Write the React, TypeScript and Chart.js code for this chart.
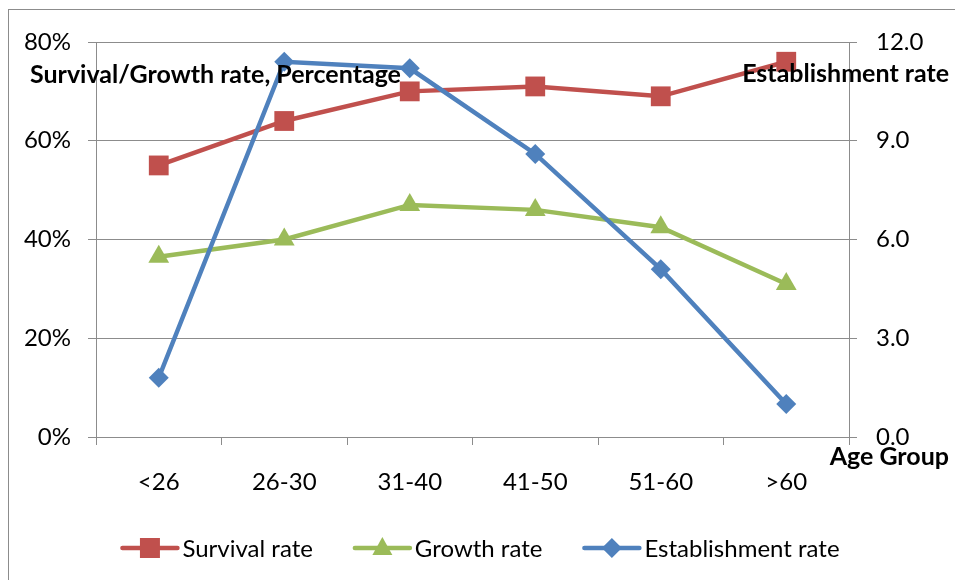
import React, { useEffect, useRef } from "react";
import { Chart, registerables } from "chart.js";

Chart.register(...registerables);

const ageGroups = ["<26", "26-30", "31-40", "41-50", "51-60", ">60"];
const survivalRate = [55, 64, 70, 71, 69, 76];
const growthRate = [36.5, 40, 47, 46, 42.5, 31];
const establishmentRate = [1.8, 11.4, 11.2, 8.6, 5.1, 1.0];

const leftTitle = "Survival/Growth rate, Percentage";
const rightTitle = "Establishment rate";
const xTitle = "Age Group";

const FONT = "Lato, 'Open Sans', sans-serif";
const TICK_SIZE = 24;
const TITLE_SIZE = 25;
const GRID = "#8c8c8c";
const RED = "#C0504D";
const GREEN = "#9BBB59";
const BLUE = "#4F81BD";

function drawMarker(ctx: CanvasRenderingContext2D, style: string, x: number, y: number, color: string) {
  ctx.fillStyle = color;
  ctx.beginPath();
  if (style === "rect") {
    ctx.rect(x - 10, y - 10, 20, 20);
  } else if (style === "triangle") {
    ctx.moveTo(x, y - 11);
    ctx.lineTo(x + 10, y + 7);
    ctx.lineTo(x - 10, y + 7);
    ctx.closePath();
  } else {
    ctx.moveTo(x, y - 10);
    ctx.lineTo(x + 10, y);
    ctx.lineTo(x, y + 10);
    ctx.lineTo(x - 10, y);
    ctx.closePath();
  }
  ctx.fill();
}

const annotationPlugin = {
  id: "axisTitlesAndLegend",
  afterDraw(chart: any) {
    const ctx: CanvasRenderingContext2D = chart.ctx;
    ctx.save();
    ctx.fillStyle = "#000";
    ctx.textBaseline = "alphabetic";
    ctx.font = `bold ${TITLE_SIZE}px ${FONT}`;
    ctx.textAlign = "left";
    ctx.fillText(leftTitle, 30, 83);
    ctx.textAlign = "right";
    ctx.fillText(rightTitle, 949, 82);
    ctx.fillText(xTitle, 949, 465);

    // legend, centred under the plot
    ctx.font = `${TICK_SIZE}px ${FONT}`;
    ctx.textAlign = "left";
    ctx.textBaseline = "middle";
    const lineLen = 55;
    const textGap = 5;
    const itemGap = 42;
    const items = [...chart.data.datasets]
      .sort((a: any, b: any) => a.legendIndex - b.legendIndex)
      .map((ds: any) => ({ ds, w: lineLen + textGap + ctx.measureText(ds.label).width }));
    const total = items.reduce((s: number, it: any) => s + it.w, 0) + itemGap * (items.length - 1);
    let x = 481 - total / 2;
    const y = 548;
    for (const it of items) {
      ctx.strokeStyle = it.ds.borderColor;
      ctx.lineWidth = 4.5;
      ctx.lineCap = "round";
      ctx.beginPath();
      ctx.moveTo(x, y);
      ctx.lineTo(x + lineLen, y);
      ctx.stroke();
      drawMarker(ctx, it.ds.pointStyle, x + lineLen / 2, y, it.ds.borderColor);
      ctx.fillStyle = "#000";
      ctx.fillText(it.ds.label, x + lineLen + textGap, y + 1);
      x += it.w + itemGap;
    }
    ctx.restore();
  },
};

export default function App() {
  const canvasRef = useRef<HTMLCanvasElement | null>(null);

  useEffect(() => {
    if (!canvasRef.current) return;
    const chart = new Chart(canvasRef.current, {
      type: "line",
      data: {
        labels: ageGroups,
        datasets: [
          {
            label: "Survival rate",
            data: survivalRate,
            yAxisID: "y",
            borderColor: RED,
            backgroundColor: RED,
            borderWidth: 4.5,
            pointStyle: "rect",
            pointRadius: 14,
            pointBorderWidth: 0,
            order: 2,
            legendIndex: 0,
          } as any,
          {
            label: "Growth rate",
            data: growthRate,
            yAxisID: "y",
            borderColor: GREEN,
            backgroundColor: GREEN,
            borderWidth: 4.5,
            pointStyle: "triangle",
            pointRadius: 12,
            pointBorderWidth: 0,
            order: 1,
            legendIndex: 1,
          } as any,
          {
            label: "Establishment rate",
            data: establishmentRate,
            yAxisID: "y1",
            borderColor: BLUE,
            backgroundColor: BLUE,
            borderWidth: 4.5,
            pointStyle: "rectRot",
            pointRadius: 10,
            pointBorderWidth: 0,
            order: 0,
            legendIndex: 2,
          } as any,
        ],
      },
      options: {
        responsive: false,
        animation: false,
        events: [],
        layout: { padding: { top: 42, left: 0, right: 0, bottom: 83 } },
        plugins: { legend: { display: false }, tooltip: { enabled: false } },
        scales: {
          x: {
            offset: true,
            grid: {
              offset: true,
              drawOnChartArea: false,
              drawTicks: true,
              tickLength: 8,
              color: GRID,
            },
            border: { display: true, color: GRID, width: 1 },
            ticks: { color: "#000", font: { family: FONT, size: TICK_SIZE }, padding: 23, maxRotation: 0 },
            afterFit: (s: any) => { s.height = 60; },
          },
          y: {
            position: "left",
            min: 0,
            max: 80,
            ticks: {
              stepSize: 20,
              color: "#000",
              padding: 17,
              font: { family: FONT, size: TICK_SIZE },
              callback: (v: any) => `${v}%`,
            },
            grid: { color: GRID, tickLength: 8, lineWidth: 1 },
            border: { display: true, color: GRID, width: 1 },
            afterFit: (s: any) => { s.width = 96; },
          },
          y1: {
            position: "right",
            min: 0,
            max: 12,
            ticks: {
              stepSize: 3,
              color: "#000",
              padding: 19,
              font: { family: FONT, size: TICK_SIZE },
              callback: (v: any) => Number(v).toFixed(1),
            },
            grid: { drawOnChartArea: false, color: GRID, tickLength: 8 },
            border: { display: true, color: GRID, width: 1 },
            afterFit: (s: any) => { s.width = 106; },
          },
        },
      },
      plugins: [annotationPlugin],
    });
    return () => chart.destroy();
  }, []);

  return (
    <div
      style={{
        position: "fixed",
        left: 0,
        top: 0,
        width: 955,
        height: 580,
        overflow: "hidden",
        background: "#fff",
      }}
    >
      <div
        style={{
          position: "absolute",
          left: 8,
          top: 9,
          width: 1100,
          height: 800,
          borderLeft: `1.5px solid ${GRID}`,
          borderTop: `1.5px solid ${GRID}`,
        }}
      />
      <canvas
        ref={canvasRef}
        width={955}
        height={580}
        style={{ position: "absolute", left: 0, top: 0, width: 955, height: 580 }}
      />
    </div>
  );
}
